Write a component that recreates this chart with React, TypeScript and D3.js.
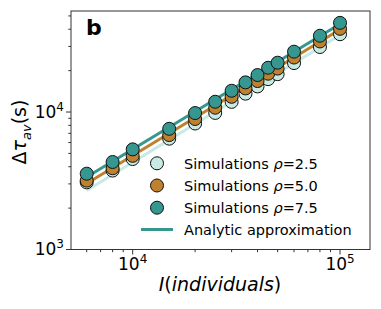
import React from "react";
import * as d3 from "d3";

const W = 381;
const H = 309;

const individuals = [6000, 8000, 10000, 15000, 20000, 25000, 30000, 35000, 40000, 45000, 50000, 60000, 80000, 100000];
const simRho25 = [3080, 3750, 4550, 6400, 8250, 9850, 11850, 13600, 15350, 17350, 18850, 22700, 29700, 36800];
const simRho50 = [3170, 3900, 4800, 6800, 8900, 10750, 12900, 14850, 16800, 19000, 20700, 24900, 32600, 40300];
const simRho75 = [3560, 4330, 5350, 7550, 9830, 11880, 14280, 16430, 18580, 20990, 22840, 27480, 35890, 44530];

const lineI = [6000, 100000];
const analyticRho25 = [2690, 36300];
const analyticRho50 = [3020, 39800];
const analyticRho75 = [3365, 43650];

const xMajor = [10000, 100000];
const xMajorExp = ["4", "5"];
const xMinor = [6000, 7000, 8000, 9000, 20000, 30000, 40000, 50000, 60000, 70000, 80000, 90000];
const yMajor = [1000, 10000];
const yMajorExp = ["3", "4"];
const yMinor = [2000, 3000, 4000, 5000, 6000, 7000, 8000, 9000, 20000, 30000, 40000, 50000];

const legendLabels = ["2.5", "5.0", "7.5"];
const colors = ["#c7eae5", "#bf812d", "#35978f"];

export default function App() {
  const left = 71, right = 370, top = 11, bottom = 249.5;
  const x = d3.scaleLog().domain([5040, 139500]).range([left, right]);
  const y = d3.scaleLog().domain([1000, 54300]).range([bottom, top]);
  const line = d3.line<[number, number]>().x((d) => x(d[0])).y((d) => y(d[1]));

  const sims = [simRho25, simRho50, simRho75];
  const analytic = [analyticRho25, analyticRho50, analyticRho75];
  const axisColor = "#333";
  const font = "DejaVu Sans, sans-serif";

  return (
    <svg width={W} height={H} style={{ position: "absolute", left: 0, top: 0 }} fontFamily={font}>
      <rect width={W} height={H} fill="white" />
      {analytic.map((vals, k) => (
        <path key={"l" + k} d={line(lineI.map((v, i) => [v, vals[i]]) as [number, number][]) || ""} fill="none" stroke={colors[k]} strokeWidth={3} />
      ))}
      {sims.map((vals, k) => (
        <g key={"s" + k}>
          {vals.map((v, i) => (
            <circle key={i} cx={x(individuals[i])} cy={y(v)} r={6.5} fill={colors[k]} stroke="#111" strokeWidth={1} />
          ))}
        </g>
      ))}
      <rect x={left} y={top} width={right - left} height={bottom - top} fill="none" stroke={axisColor} strokeWidth={1} />
      {xMajor.map((v, i) => (
        <g key={"xM" + i}>
          <line x1={x(v)} x2={x(v)} y1={bottom} y2={bottom + 5} stroke={axisColor} />
          <text x={x(v)} y={270} textAnchor="middle" fontSize={17} fill="#000">
            10<tspan fontSize={12} dy={-7}>{xMajorExp[i]}</tspan>
          </text>
        </g>
      ))}
      {xMinor.map((v, i) => (
        <line key={"xm" + i} x1={x(v)} x2={x(v)} y1={bottom} y2={bottom + 2.7} stroke={axisColor} />
      ))}
      {yMajor.map((v, i) => (
        <g key={"yM" + i}>
          <line x1={left - 5} x2={left} y1={y(v)} y2={y(v)} stroke={axisColor} />
          <text x={64} y={y(v) + 5.5} textAnchor="end" fontSize={17} fill="#000">
            10<tspan fontSize={12} dy={-7}>{yMajorExp[i]}</tspan>
          </text>
        </g>
      ))}
      {yMinor.map((v, i) => (
        <line key={"ym" + i} x1={left - 2.7} x2={left} y1={y(v)} y2={y(v)} stroke={axisColor} />
      ))}
      <text x={220} y={291} textAnchor="middle" fontSize={19} fill="#000">
        <tspan fontStyle="italic">I</tspan>(<tspan fontStyle="italic">individuals</tspan>)
      </text>
      <text transform="translate(26,132) rotate(-90)" textAnchor="middle" fontSize={19} fill="#000">
        Δ<tspan fontStyle="italic">τ</tspan><tspan fontStyle="italic" fontSize={13} dy={5}>av</tspan><tspan dy={-5}>(s)</tspan>
      </text>
      <text x={86} y={35} fontSize={22} fontWeight="bold" fill="#000">b</text>
      {legendLabels.map((lab, k) => (
        <g key={"lg" + k}>
          <circle cx={157} cy={163.3 + k * 22.2} r={6.5} fill={colors[k]} stroke="#111" strokeWidth={1} />
          <text x={184} y={163.3 + k * 22.2 + 5.3} fontSize={14.5} fill="#000">
            Simulations <tspan fontStyle="italic">ρ</tspan>={lab}
          </text>
        </g>
      ))}
      <line x1={141} x2={173} y1={229.5} y2={229.5} stroke={colors[2]} strokeWidth={3} />
      <text x={184} y={234.8} fontSize={14.5} fill="#000">Analytic approximation</text>
    </svg>
  );
}
